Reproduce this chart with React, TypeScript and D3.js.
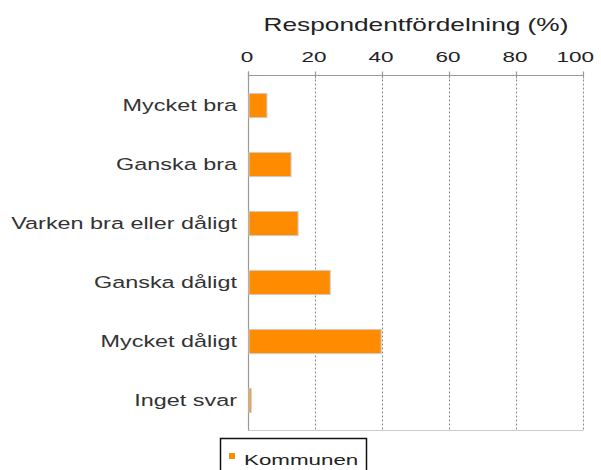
import React from "react";
import * as d3 from "d3";

const categories = ["Mycket bra", "Ganska bra", "Varken bra eller dåligt", "Ganska dåligt", "Mycket dåligt", "Inget svar"];
const values = [5.5, 12.7, 14.8, 24.4, 39.6, 0.8];
const ticks = [0, 20, 40, 60, 80, 100];
const seriesName = "Kommunen";
const axisTitle = "Respondentfördelning (%)";

const W = 601;
const H = 470;
const SX = 1.5;
const FONT = "'Liberation Sans', Arial, sans-serif";
const ORANGE = "#FF8C00";

function SText(props: { x: number; y: number; anchor?: string; size: number; fill?: string; children: React.ReactNode }) {
  const { x, y, anchor = "start", size, fill = "#222", children } = props;
  return (
    <text
      transform={`translate(${x},${y}) scale(${SX},1)`}
      textAnchor={anchor}
      fontFamily={FONT}
      fontSize={size}
      fill={fill}
    >
      {children}
    </text>
  );
}

export default function App() {
  const x = d3.scaleLinear().domain([0, 100]).range([248.5, 583.5]);
  const y = d3.scaleBand<string>().domain(categories).range([76, 430]).paddingInner(0.59).paddingOuter(0.295);
  const top = 75.5;
  const bottom = 430.5;
  return (
    <svg width={W} height={H} style={{ position: "absolute", left: 0, top: 0, background: "#fff" }}>
      {/* grid lines */}
      {ticks.filter((t) => t > 0).map((t) => (
        <line key={"g" + t} x1={x(t)} x2={x(t)} y1={top} y2={bottom} stroke="#888" strokeWidth={1} strokeDasharray="2,2" />
      ))}
      {/* frame */}
      <line x1={x(0)} x2={x(100)} y1={top} y2={top} stroke="#999" strokeWidth={1.2} />
      <line x1={x(0)} x2={x(100)} y1={bottom} y2={bottom} stroke="#ccc" strokeWidth={1.2} />
      <line x1={x(0)} x2={x(0)} y1={top - 4} y2={bottom} stroke="#999" strokeWidth={1.2} />
      {ticks.map((t) => (
        <line key={"t" + t} x1={x(t)} x2={x(t)} y1={top - 4} y2={top + 3} stroke="#999" strokeWidth={1.2} />
      ))}
      {/* bars */}
      {categories.map((c, i) => (
        <rect
          key={c}
          x={x(0) + 0.5}
          y={y(c)!}
          width={Math.max(0, x(values[i]) - x(0) - 0.5)}
          height={y.bandwidth()}
          fill={ORANGE}
          stroke="#ccc"
          strokeWidth={1}
        />
      ))}
      {/* category labels */}
      {categories.map((c) => (
        <SText key={"l" + c} x={237} y={y(c)! + y.bandwidth() / 2 + 5.5} anchor="end" size={15.6} fill="#333">
          {c}
        </SText>
      ))}
      {/* tick labels */}
      {ticks.map((t, i) => (
        <SText
          key={"tl" + t}
          x={i === ticks.length - 1 ? 594 : x(t) - 1.5}
          y={62}
          anchor={i === ticks.length - 1 ? "end" : "middle"}
          size={15}
          fill="#222"
        >
          {t}
        </SText>
      ))}
      {/* axis title */}
      <SText x={416} y={31} anchor="middle" size={17.5} fill="#222">
        {axisTitle}
      </SText>
      {/* legend */}
      <rect x={220.5} y={438.5} width={146} height={40} fill="#fff" stroke="#111" strokeWidth={1.5} />
      <rect x={229} y={453} width={6} height={6} fill={ORANGE} />
      <SText x={244} y={465} size={14.9} fill="#222">
        {seriesName}
      </SText>
    </svg>
  );
}
